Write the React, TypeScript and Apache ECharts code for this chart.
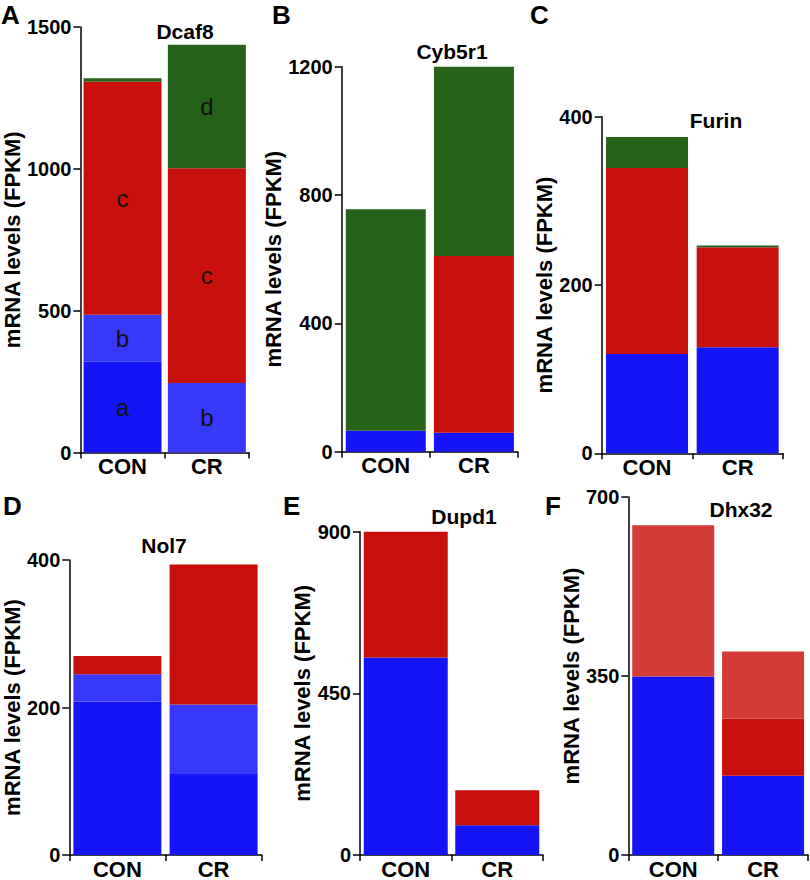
import React, { useEffect, useRef } from "react";
import * as echarts from "echarts";

// ---------- data ----------
const categories = ["CON", "CR"];
const panelLetters = ["A", "B", "C", "D", "E", "F"];
const geneNames = ["Dcaf8", "Cyb5r1", "Furin", "Nol7", "Dupd1", "Dhx32"];
const yMax = [1500, 1200, 400, 400, 900, 700];
const yInterval = [500, 400, 200, 200, 450, 350];
const yAxisTitle = "mRNA levels (FPKM)";

// A: Dcaf8 (stack segments, bottom to top)
const dcaf8_a = [320, 0];
const dcaf8_b = [166, 245];
const dcaf8_c = [821, 757];
const dcaf8_d = [12, 435];
const dcaf8_aLabels = ["a", ""];
const dcaf8_bLabels = ["b", "b"];
const dcaf8_cLabels = ["c", "c"];
const dcaf8_dLabels = ["", "d"];

// B: Cyb5r1
const cyb5r1_blue = [65, 59];
const cyb5r1_red = [0, 551];
const cyb5r1_green = [691, 590];

// C: Furin
const furin_blue = [118, 126];
const furin_red = [221, 119];
const furin_green = [37, 2];

// D: Nol7
const nol7_darkBlue = [208, 110];
const nol7_lightBlue = [37, 94];
const nol7_red = [25, 190];

// E: Dupd1
const dupd1_blue = [550, 83];
const dupd1_red = [350, 97];

// F: Dhx32
const dhx32_blue = [349, 155];
const dhx32_red = [0, 112];
const dhx32_lightRed = [296, 131];

// ---------- styles ----------
const FONT = "'Liberation Sans', Arial, Helvetica, sans-serif";
const DARK_BLUE = "#1414F7";
const LIGHT_BLUE = "#3838FB";
const RED = "#C80F0B";
const GREEN = "#27621A";
const LIGHT_RED = "#D43A36";

type Seg = { name: string; color: string; values: number[]; labels?: string[] };

const panels: Seg[][] = [
  [
    { name: "a", color: DARK_BLUE, values: dcaf8_a, labels: dcaf8_aLabels },
    { name: "b", color: LIGHT_BLUE, values: dcaf8_b, labels: dcaf8_bLabels },
    { name: "c", color: RED, values: dcaf8_c, labels: dcaf8_cLabels },
    { name: "d", color: GREEN, values: dcaf8_d, labels: dcaf8_dLabels },
  ],
  [
    { name: "blue", color: DARK_BLUE, values: cyb5r1_blue },
    { name: "red", color: RED, values: cyb5r1_red },
    { name: "green", color: GREEN, values: cyb5r1_green },
  ],
  [
    { name: "blue", color: DARK_BLUE, values: furin_blue },
    { name: "red", color: RED, values: furin_red },
    { name: "green", color: GREEN, values: furin_green },
  ],
  [
    { name: "darkBlue", color: DARK_BLUE, values: nol7_darkBlue },
    { name: "lightBlue", color: LIGHT_BLUE, values: nol7_lightBlue },
    { name: "red", color: RED, values: nol7_red },
  ],
  [
    { name: "blue", color: DARK_BLUE, values: dupd1_blue },
    { name: "red", color: RED, values: dupd1_red },
  ],
  [
    { name: "blue", color: DARK_BLUE, values: dhx32_blue },
    { name: "red", color: RED, values: dhx32_red },
    { name: "lightRed", color: LIGHT_RED, values: dhx32_lightRed },
  ],
];

// layout: grid left/top/right-edge/bottom-edge, barWidth, nameGap
const layout = [
  { l: 77.5, t: 27, r: 249, b: 452.5, bw: 78, ng: 52 },
  { l: 341.7, t: 66.7, r: 518, b: 451.7, bw: 80, ng: 33 },
  { l: 601.7, t: 116.7, r: 783, b: 453.3, bw: 82, ng: 42 },
  { l: 68.3, t: 560, r: 261.7, b: 857, bw: 88, ng: 44 },
  { l: 360, t: 531.7, r: 543, b: 856.7, bw: 84, ng: 39 },
  { l: 628.3, t: 497, r: 808, b: 856.7, bw: 82, ng: 44 },
];
const letterPos = [
  { x: 1, y: 2 }, { x: 272, y: 2 }, { x: 530, y: 2 },
  { x: 3, y: 493 }, { x: 283, y: 493 }, { x: 545, y: 493 },
];
const titlePos = [
  { x: 185, y: 31 }, { x: 452, y: 51 }, { x: 716, y: 120 },
  { x: 164, y: 545 }, { x: 464, y: 516 }, { x: 741, y: 509 },
];

export default function App() {
  const ref = useRef<HTMLDivElement>(null);
  useEffect(() => {
    if (!ref.current) return;
    const chart = echarts.init(ref.current, undefined, { renderer: "svg" });
    const axisLine = { show: true, lineStyle: { color: "#000", width: 1.5 } };
    const grid = layout.map((g) => ({
      left: g.l, top: g.t, width: g.r - g.l, height: g.b - g.t, containLabel: false,
    }));
    const xAxis = layout.map((g, i) => ({
      type: "category", gridIndex: i, data: categories,
      axisLine, axisTick: { show: true, length: 6, lineStyle: { color: "#000", width: 1.5 } },
      axisLabel: { fontSize: 22, fontWeight: "bold", color: "#000", margin: 3, fontFamily: FONT },
    }));
    const yAxis = layout.map((g, i) => ({
      type: "value", gridIndex: i, min: 0, max: yMax[i], interval: yInterval[i],
      axisLine, axisTick: { show: true, length: 7, lineStyle: { color: "#000", width: 1.5 } },
      splitLine: { show: false },
      axisLabel: {
        fontSize: 20, fontWeight: "bold", color: "#000", margin: 9, fontFamily: FONT,
        formatter: (v: number) => String(v),
      },
      name: yAxisTitle, nameLocation: "middle", nameGap: g.ng,
      nameTextStyle: { fontSize: 22, fontWeight: "bold", color: "#000", fontFamily: FONT },
    }));
    const series: any[] = [];
    panels.forEach((segs, i) => {
      segs.forEach((seg) => {
        series.push({
          type: "bar", name: seg.name, xAxisIndex: i, yAxisIndex: i, stack: "s" + i,
          barWidth: layout[i].bw,
          itemStyle: { color: seg.color },
          label: { position: "inside", fontSize: 24, color: "#111", fontFamily: FONT },
          data: seg.values.map((v, j) => {
            const t = seg.labels ? seg.labels[j] : "";
            return { value: v, label: { show: !!t, formatter: t } };
          }),
        });
      });
    });
    const graphic: any[] = [];
    panelLetters.forEach((L, i) => {
      graphic.push({
        type: "text", x: letterPos[i].x, y: letterPos[i].y,
        style: { text: L, fill: "#000", font: `bold 26px ${FONT}`, textAlign: "left", textVerticalAlign: "top" },
      });
      graphic.push({
        type: "text", x: titlePos[i].x, y: titlePos[i].y,
        style: { text: geneNames[i], fill: "#000", font: `bold 21px ${FONT}`, textAlign: "center", textVerticalAlign: "middle" },
      });
    });
    chart.setOption({
      animation: false,
      backgroundColor: "#fff",
      grid, xAxis, yAxis, series, graphic,
    });
    return () => chart.dispose();
  }, []);
  return <div ref={ref} style={{ position: "absolute", left: 0, top: 0, width: 810, height: 880 }} />;
}
